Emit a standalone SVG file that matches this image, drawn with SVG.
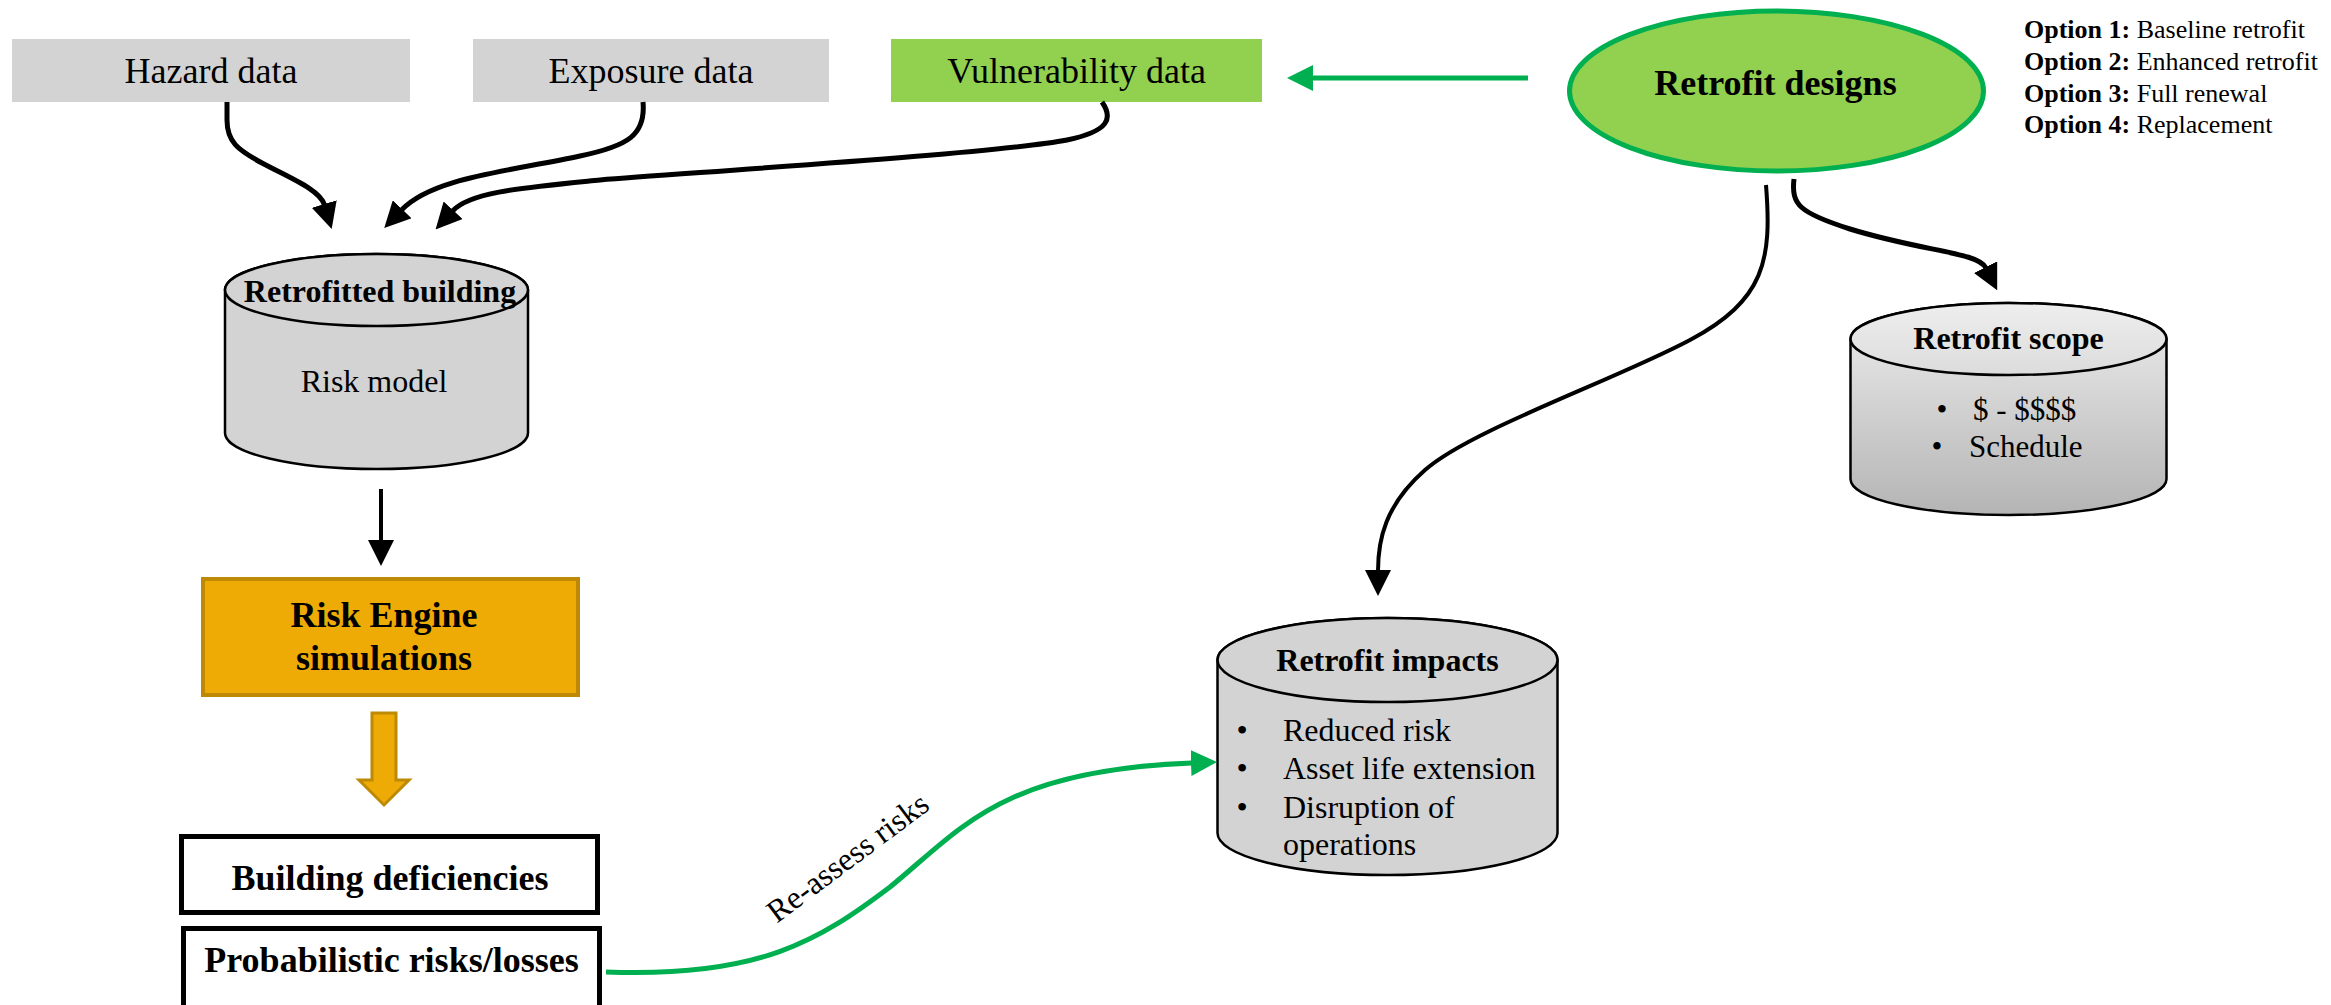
<svg xmlns="http://www.w3.org/2000/svg" width="2331" height="1005" viewBox="0 0 2331 1005">
  <defs>
    <marker id="arrowBlack" markerUnits="userSpaceOnUse" markerWidth="26" markerHeight="26" viewBox="0 0 26 26" refX="1" refY="13" orient="auto">
      <path d="M0,0 L26,13 L0,26 Z" fill="#000"/>
    </marker>
    <marker id="arrowGreen" markerUnits="userSpaceOnUse" markerWidth="26" markerHeight="26" viewBox="0 0 26 26" refX="1" refY="13" orient="auto">
      <path d="M0,0 L26,13 L0,26 Z" fill="#00B050"/>
    </marker>
    <linearGradient id="scopeFill" x1="0" y1="0" x2="0" y2="1">
      <stop offset="0" stop-color="#EEEEEE"/>
      <stop offset="1" stop-color="#B4B4B4"/>
    </linearGradient>
    <linearGradient id="scopeTop" x1="0" y1="0" x2="0" y2="1">
      <stop offset="0" stop-color="#EEEEEE"/>
      <stop offset="1" stop-color="#DCDCDC"/>
    </linearGradient>
  </defs>
  <style>
    text { font-family: "Liberation Serif", "Times New Roman", serif; fill: #000; }
    .b { font-weight: bold; }
    .input-grey { fill: #D3D3D3; }
    .input-green { fill: #92D050; }
    .drum { fill: #D3D3D3; stroke: #000; stroke-width: 2.5; }
    .scope-body { fill: url(#scopeFill); stroke: #000; stroke-width: 2.5; }
    .scope-cap { fill: url(#scopeTop); stroke: #000; stroke-width: 2.5; }
    .out-box { fill: #fff; stroke: #000; stroke-width: 5; }
    .link { fill: none; stroke: #000; stroke-width: 5; marker-end: url(#arrowBlack); }
    .link-thin { fill: none; stroke: #000; stroke-width: 4; marker-end: url(#arrowBlack); }
    .link-green { fill: none; stroke: #00B050; stroke-width: 5; marker-end: url(#arrowGreen); }
  </style>

  <rect width="2331" height="1005" fill="#fff"/>

  <!-- input data boxes -->
  <g id="hazard-data">
    <rect class="input-grey" x="12" y="39" width="398" height="63"/>
    <text x="211" y="83" font-size="36" text-anchor="middle">Hazard data</text>
  </g>
  <g id="exposure-data">
    <rect class="input-grey" x="473" y="39" width="356" height="63"/>
    <text x="651" y="83" font-size="36" text-anchor="middle">Exposure data</text>
  </g>
  <g id="vulnerability-data">
    <rect class="input-green" x="891" y="39" width="371" height="63"/>
    <text x="1076.5" y="83" font-size="36" text-anchor="middle">Vulnerability data</text>
  </g>

  <!-- retrofit design options -->
  <g id="retrofit-designs">
    <ellipse cx="1776.5" cy="91" rx="207" ry="80" fill="#92D050" stroke="#00B050" stroke-width="5"/>
    <text class="b" x="1775.5" y="95" font-size="36" text-anchor="middle">Retrofit designs</text>
  </g>
  <g id="retrofit-options" font-size="26">
    <text x="2024" y="38"><tspan class="b">Option 1:</tspan> Baseline retrofit</text>
    <text x="2024" y="70"><tspan class="b">Option 2:</tspan> Enhanced retrofit</text>
    <text x="2024" y="102"><tspan class="b">Option 3:</tspan> Full renewal</text>
    <text x="2024" y="133"><tspan class="b">Option 4:</tspan> Replacement</text>
  </g>

  <!-- building risk model -->
  <g id="retrofitted-building">
    <path class="drum" d="M225,290 L225,433 A151.5,36 0 0 0 528,433 L528,290 A151.5,36 0 0 0 225,290 Z"/>
    <ellipse class="drum" cx="376.5" cy="290" rx="151.5" ry="36"/>
    <text class="b" x="380" y="302" font-size="32" text-anchor="middle">Retrofitted building</text>
    <text x="374" y="392" font-size="32" text-anchor="middle">Risk model</text>
  </g>

  <g id="risk-engine">
    <rect x="203" y="579" width="375" height="116" fill="#EEAA05" stroke="#BE8A06" stroke-width="4"/>
    <text class="b" x="384" y="627" font-size="36" text-anchor="middle">Risk Engine</text>
    <text class="b" x="384" y="670" font-size="36" text-anchor="middle">simulations</text>
  </g>

  <g id="building-deficiencies">
    <rect class="out-box" x="181.5" y="836.5" width="416" height="76"/>
    <text class="b" x="390" y="890" font-size="36" text-anchor="middle">Building deficiencies</text>
  </g>

  <g id="probabilistic-risks">
    <rect class="out-box" x="183.5" y="928.5" width="416" height="90"/>
    <text class="b" x="391.5" y="972" font-size="36" text-anchor="middle">Probabilistic risks/losses</text>
  </g>

  <g id="retrofit-scope">
    <path class="scope-body" d="M1850.5,339 L1850.5,479 A158,36 0 0 0 2166.5,479 L2166.5,339 A158,36 0 0 0 1850.5,339 Z"/>
    <ellipse class="scope-cap" cx="2008.5" cy="339" rx="158" ry="36"/>
    <text class="b" x="2008.5" y="349" font-size="32" text-anchor="middle">Retrofit scope</text>
    <text x="1942" y="420" font-size="31" text-anchor="middle">•</text>
    <text x="1973" y="420" font-size="31">$ - $$$$</text>
    <text x="1937" y="457" font-size="31" text-anchor="middle">•</text>
    <text x="1969" y="457" font-size="31">Schedule</text>
  </g>

  <g id="retrofit-impacts">
    <path class="drum" d="M1217.5,660 L1217.5,833 A170,42 0 0 0 1557.5,833 L1557.5,660 A170,42 0 0 0 1217.5,660 Z"/>
    <ellipse class="drum" cx="1387.5" cy="660" rx="170" ry="42"/>
    <text class="b" x="1387.5" y="671" font-size="32" text-anchor="middle">Retrofit impacts</text>
    <g font-size="32">
      <text x="1242" y="741" text-anchor="middle">•</text>
      <text x="1283" y="741">Reduced risk</text>
      <text x="1242" y="779" text-anchor="middle">•</text>
      <text x="1283" y="779">Asset life extension</text>
      <text x="1242" y="818" text-anchor="middle">•</text>
      <text x="1283" y="818">Disruption of</text>
      <text x="1283" y="855">operations</text>
    </g>
  </g>

  <!-- connectors -->
  <g id="connectors">
    <path class="link" d="M227,102 L227,120 C227,142 238,150 262,163 C292,179 320,190 324.5,205"/>
    <path class="link" d="M643,102 C646,135 628,146 580,156 C505,172 432,178 401.5,210"/>
    <path class="link" d="M1102,102 C1113,118 1110,131 1067,140 C1000,153 700,172 600,180 C520,188 470,192 452.5,211"/>
    <path class="link-thin" d="M381,489 L381,541"/>
    <polygon points="372,713 396,713 396,780 409,780 384,805 359,780 372,780" fill="#EEAA05" stroke="#BE8A06" stroke-width="3" stroke-linejoin="miter"/>
    <path class="link-thin" d="M1766,185 C1772,260 1765,300 1690,340 C1615,380 1470,430 1425,470 C1385,505 1378,540 1378,571"/>
    <path class="link" d="M1794,179 C1791,205 1800,213 1850,229 C1925,252 1978,252 1986,268"/>
    <path class="link-green" d="M1528,78 L1312,78"/>
    <path class="link-green" d="M606,972 C760,978 820,940 890,887 C960,830 1000,770 1192,763"/>
    <text x="854" y="866" font-size="32" text-anchor="middle" transform="rotate(-36.7 854 866)">Re-assess risks</text>
  </g>
</svg>
